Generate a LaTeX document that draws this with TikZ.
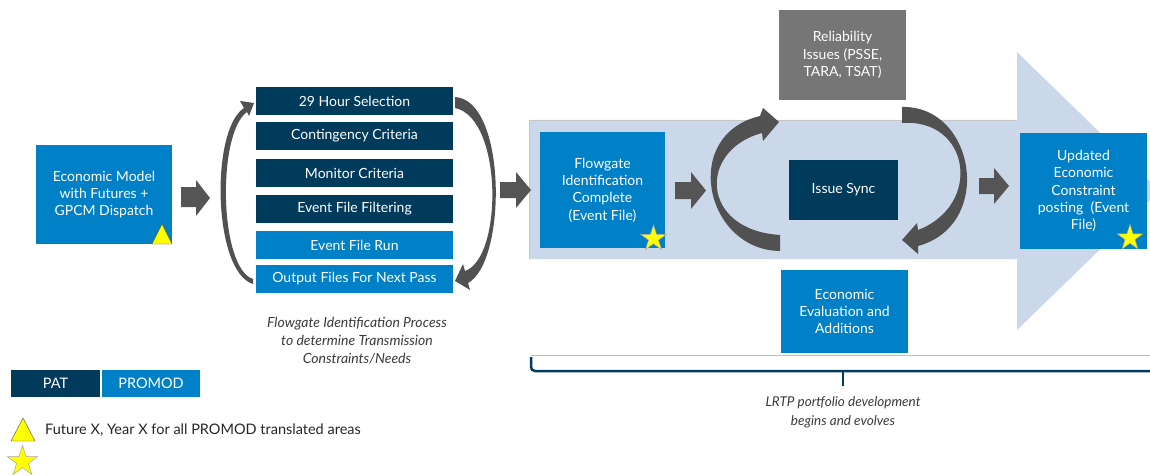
\documentclass[tikz,border=0pt]{standalone}
\usepackage{fontspec}
\setmainfont{Lato}
\usetikzlibrary{shapes.geometric}
\definecolor{navy}{HTML}{003B5C}
\definecolor{mblue}{HTML}{0080C6}
\definecolor{boxgray}{HTML}{767676}
\definecolor{arrgray}{HTML}{555555}
\definecolor{lightarrow}{HTML}{CBD8EA}
\definecolor{captxt}{HTML}{3A3A3A}
\definecolor{staryellow}{HTML}{FFFF00}
\begin{document}
\begin{tikzpicture}[x=1pt,y=-1pt,
 box/.style={inner sep=0pt, text=white, align=center, font=\fontsize{14}{17.3}\selectfont},
 navybox/.style={box, fill=navy},
 bluebox/.style={box, fill=mblue},
 graybox/.style={box, fill=boxgray},
 listbox/.style={minimum width=197pt, minimum height=28pt},
 caption/.style={align=center, text=captxt, font=\fontsize{14}{18}\selectfont\itshape},
 legendbox/.style={minimum height=27pt, font=\fontsize{14.5}{16}\selectfont},
 starmark/.style={star, star points=5, star point ratio=2.6, fill=staryellow, draw=gray!70, line width=0.5pt, inner sep=0pt},
 blockarrow/.style={fill=arrgray},
 curvearrow/.style={fill=arrgray!95!black},
 tri/.style={fill=staryellow, draw=gray!60!black, line width=0.4pt}
]
\useasboundingbox (0,0) rectangle (1150,476);
\clip (0,0) rectangle (1150,476);

% big light-blue arrow
\fill[lightarrow] (529,120) -- (1017,120) -- (1017,52) -- (1160,191) -- (1017,330) -- (1017,259) -- (529,259) -- cycle;
\draw[gray!45, line width=0.6pt] (1017,120) -- (529,120) -- (529,259);

% economic model
\node[bluebox, minimum width=136pt, minimum height=99pt] (econ) at (104,194.5) {Economic Model\\with Futures +\\GPCM Dispatch};
\draw[tri] (152,244) -- (172,244) -- (162,224) -- cycle;

% block arrow 1
\fill[blockarrow] (181,187) -- (196,187) -- (196,180) -- (210,198) -- (196,216) -- (196,207) -- (181,207) -- cycle;

% list boxes
\node[navybox, listbox] (l1) at (354.5,101) {29 Hour Selection};
\node[navybox, listbox] (l2) at (354.5,136) {Contingency Criteria};
\node[navybox, listbox] (l3) at (354.5,173) {Monitor Criteria};
\node[navybox, listbox] (l4) at (354.5,209) {Event File Filtering};
\node[bluebox, listbox] (l5) at (354.5,245) {Event File Run};
\node[bluebox, listbox] (l6) at (354.5,279) {Output Files For Next Pass};

% thin curved arrows around list
\fill[curvearrow] (253,284) .. controls (213,272) and (210,130) .. (244,108) -- (240,101) -- (254,103) -- (249,116) -- (247,112) .. controls (217,133) and (219,268) .. (253,279) -- cycle;
\fill[curvearrow] (455,97) .. controls (507,100) and (507,262) .. (468,283) -- (470,290) -- (455,281) -- (463,264) -- (465,271) .. controls (503,258) and (503,118) .. (455,108) -- cycle;

\node[caption] (fcap) at (357,341) {Flowgate Identification Process\\to determine Transmission\\Constraints/Needs};

% block arrow 2
\fill[blockarrow] (500,182) -- (516,182) -- (516,172) -- (531,190) -- (516,208) -- (516,198) -- (500,198) -- cycle;

\node[bluebox, minimum width=125pt, minimum height=116pt] (flow) at (602.5,190) {Flowgate\\Identification\\Complete\\(Event File)};
\node[starmark, minimum size=27pt] (s1) at (653.5,238.5) {};

% block arrow 3
\fill[blockarrow] (675,182) -- (691,182) -- (691,172) -- (706,190.5) -- (691,209) -- (691,199) -- (675,199) -- cycle;

\node[graybox, minimum width=127pt, minimum height=90pt] (rel) at (842.5,55) {Reliability\\Issues (PSSE,\\TARA, TSAT)};
\node[navybox, minimum width=109pt, minimum height=60pt] (sync) at (843.5,190) {Issue Sync};
\node[bluebox, minimum width=127pt, minimum height=83pt] (eval) at (844.5,311.5) {Economic\\Evaluation and\\Additions};

% big crescents
\fill[curvearrow] (780,251) .. controls (705,250) and (680,135) .. (760,116) -- (763,108) -- (779,122) -- (763,141) -- (762,133) .. controls (698,150) and (700,230) .. (780,235) -- cycle;
\fill[curvearrow] (902,107) .. controls (975,105) and (995,225) .. (918,246) -- (918,254) -- (902,240) -- (917,223) -- (918,230) .. controls (983,205) and (970,118) .. (902,123) -- cycle;

% block arrow 4
\fill[blockarrow] (979,178) -- (994,178) -- (994,168) -- (1009,186) -- (994,204) -- (994,194) -- (979,194) -- cycle;

\node[bluebox, minimum width=127pt, minimum height=116pt] (upd) at (1083.5,191) {Updated\\Economic\\Constraint\\posting~ (Event\\File)};
\node[starmark, minimum size=27pt] (s2) at (1130,238) {};

% bracket
\draw[gray!50, line width=0.8pt] (531,355.5) -- (1150,355.5);
\draw[navy, line width=2.5pt, rounded corners=4pt] (531,357) -- (531,371) -- (1150,371);
\draw[navy, line width=2.5pt] (843,371) -- (843,386);
\node[caption, font=\fontsize{13.5}{19}\selectfont\itshape] (lcap) at (843,412.5) {LRTP portfolio development\\begins and evolves};

% legend
\node[navybox, legendbox, minimum width=89pt] (pat) at (55.5,383.5) {PAT};
\node[bluebox, legendbox, minimum width=98pt] (promod) at (151,383.5) {PROMOD};
\draw[tri] (11,441) -- (35,441) -- (23,418) -- cycle;
\node[anchor=west, inner sep=0pt, text=black!85, font=\fontsize{14.5}{16}\selectfont] (ltxt) at (45,430) {Future X, Year X for all PROMOD translated areas};
\node[starmark, minimum size=32pt] (lstar) at (22.5,461.5) {};
\end{tikzpicture}
\end{document}
